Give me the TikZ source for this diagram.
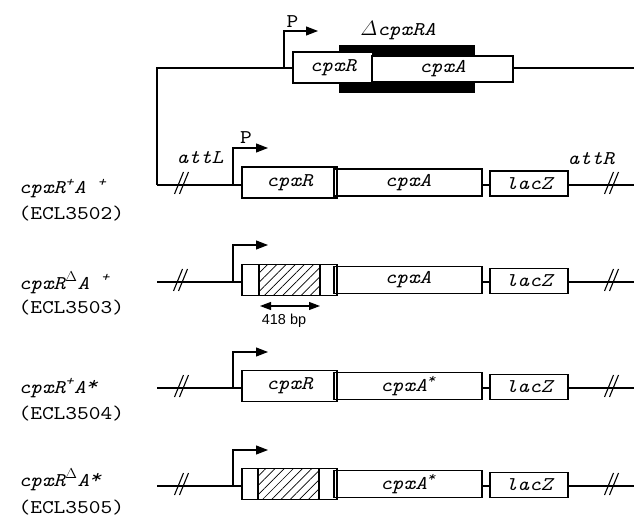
\documentclass[tikz,border=0pt]{standalone}
\usepackage{amsmath}
\usepackage{fontspec}
\setmonofont{lmmono10-regular.otf}[ItalicFont=lmmono10-italic.otf,FakeStretch=1.15]
\setsansfont{Liberation Sans}
\usetikzlibrary{arrows.meta,patterns.meta}
\newcommand\gfont{\fontsize{19.5}{21}\selectfont\ttfamily\itshape}
\newcommand\pfont{\fontsize{19.5}{21}\selectfont\ttfamily}
\newcommand\hiast{\raisebox{0.35ex}{*}}
\begin{document}
\begin{tikzpicture}[x=1bp,y=-1bp,line width=1.1bp,
  gene/.style={draw,line width=1.1bp,inner sep=0pt,font=\gfont},
  hatchbox/.style={draw,line width=1.1bp,inner sep=0pt,pattern={Lines[angle=45,distance=6.5bp,line width=0.7bp]}},
  prom/.style={-{Triangle[length=12bp,width=9bp]},line width=1.1bp},
  dna/.style={line width=1.1bp},
  lbl/.style={inner sep=0pt,font=\pfont},
  glbl/.style={inner sep=0pt,font=\gfont,anchor=base west},
  elbl/.style={inner sep=0pt,font=\pfont,anchor=base west},
  brk/.pic={\draw[line width=1.1bp] (-6.5,9)--(2.5,-13); \draw[line width=1.1bp] (-1.5,9)--(7.5,-13);}
]
\useasboundingbox (0,0) rectangle (634,523);

% ---------- top construct ----------
\node[fill=black,minimum width=136bp,minimum height=48bp,inner sep=0pt] (bar) at (407,69) {};
\node[gene,fill=white,minimum width=80bp,minimum height=31bp] (tR) at (333,67.5) {cpxR\hspace{10bp}};
\node[gene,fill=white,minimum width=141bp,minimum height=26bp] (tA) at (442.5,69) {cpxA\hspace{10bp}};
\node[inner sep=0pt,font=\gfont] (dl) at (398,31) {$\varDelta$cpxRA};
\coordinate (r1s) at (157,185);
\coordinate (tc) at (157,68);
\coordinate (te) at (634,68);
\draw[dna] (r1s) -- (tc) -- (tc -| tR.west);
\draw[dna] (tA.east |- te) -- (te);
\coordinate (tp) at (284,68);
\draw[prom] (tp) -- ++(0,-37) -- ++(34,0);
\node[lbl] (tP) at (292.5,22) {P};

% ---------- row 1 ----------
\node[gene,minimum width=95bp,minimum height=31bp] (r1R) at (289.5,182.5) {cpxR\hspace{16bp}};
\node[gene,minimum width=148bp,minimum height=27bp] (r1A) at (408,182.5) {cpxA\hspace{18bp}};
\node[gene,minimum width=78bp,minimum height=25bp] (r1Z) at (529,183.5) {lacZ\hspace{4bp}};
\coordinate (r1e) at (634,185);
\draw[dna] (r1s) -- (r1s -| r1R.west);
\draw[dna] (r1A.east |- r1s) -- (r1Z.west |- r1s);
\draw[dna] (r1Z.east |- r1s) -- (r1e);
\pic at (181,185) {brk};
\pic at (611,185) {brk};
\coordinate (r1p) at (233,185);
\draw[prom] (r1p) -- ++(0,-37) -- ++(35,0);
\node[lbl] (r1P) at (246,137.5) {P};
\node[inner sep=0pt,font=\gfont] (attL) at (200,158) {attL};
\node[inner sep=0pt,font=\gfont] (attR) at (591,159) {attR};
\node[glbl] (n1) at (18,194) {cpxR\textsuperscript{+}A \textsuperscript{+}};
\node[elbl] (e1) at (18,220) {(ECL3502)};

% ---------- row 2 ----------
\coordinate (r2s) at (157,282);
\coordinate (r2e) at (634,282);
\node[gene,minimum width=95bp,minimum height=31bp] (r2R) at (289.5,280) {};
\node[hatchbox,minimum width=61bp,minimum height=31bp] (r2H) at (289.5,280) {};
\node[gene,minimum width=148bp,minimum height=27bp] (r2A) at (408,280) {cpxA\hspace{18bp}};
\node[gene,minimum width=78bp,minimum height=25bp] (r2Z) at (529,281) {lacZ\hspace{4bp}};
\draw[dna] (r2s) -- (r2s -| r2R.west);
\draw[dna] (r2A.east |- r2s) -- (r2Z.west |- r2s);
\draw[dna] (r2Z.east |- r2s) -- (r2e);
\pic at (180,282) {brk};
\pic at (611,282) {brk};
\coordinate (r2p) at (233,282);
\draw[prom] (r2p) -- ++(0,-37) -- ++(35,0);
\coordinate (r2a) at (260,306);
\coordinate (r2b) at (320,306);
\draw[{Triangle[length=11bp,width=8bp]}-{Triangle[length=11bp,width=8bp]},line width=1.1bp] (r2a) -- (r2b);
\node[inner sep=0pt,font=\fontsize{14.5}{16}\selectfont\sffamily] (bp) at (284,321) {418 bp};
\node[glbl] (n2) at (18,289) {cpxR\textsuperscript{$\Delta$}A \textsuperscript{+}};
\node[elbl] (e2) at (18,313) {(ECL3503)};

% ---------- row 3 ----------
\coordinate (r3s) at (157,388);
\coordinate (r3e) at (634,388);
\node[gene,minimum width=95bp,minimum height=31bp] (r3R) at (289.5,386) {cpxR\hspace{4bp}};
\node[gene,minimum width=148bp,minimum height=27bp] (r3A) at (408,386) {cpxA\textsuperscript{*}\hspace{8bp}};
\node[gene,minimum width=78bp,minimum height=25bp] (r3Z) at (529,387) {lacZ\hspace{4bp}};
\draw[dna] (r3s) -- (r3s -| r3R.west);
\draw[dna] (r3A.east |- r3s) -- (r3Z.west |- r3s);
\draw[dna] (r3Z.east |- r3s) -- (r3e);
\pic at (181,388) {brk};
\pic at (611,388) {brk};
\coordinate (r3p) at (233,388);
\draw[prom] (r3p) -- ++(0,-36) -- ++(35,0);
\node[glbl] (n3) at (18,393) {cpxR\textsuperscript{+}A\hiast};
\node[elbl] (e3) at (18,419) {(ECL3504)};

% ---------- row 4 ----------
\coordinate (r4s) at (157,486);
\coordinate (r4e) at (634,486);
\node[gene,minimum width=95bp,minimum height=31bp] (r4R) at (289.5,484) {};
\node[hatchbox,minimum width=61bp,minimum height=31bp] (r4H) at (288.5,484) {};
\node[gene,minimum width=148bp,minimum height=27bp] (r4A) at (408,484) {cpxA\textsuperscript{*}\hspace{8bp}};
\node[gene,minimum width=78bp,minimum height=25bp] (r4Z) at (529,485) {lacZ\hspace{4bp}};
\draw[dna] (r4s) -- (r4s -| r4R.west);
\draw[dna] (r4A.east |- r4s) -- (r4Z.west |- r4s);
\draw[dna] (r4Z.east |- r4s) -- (r4e);
\pic at (181,486) {brk};
\pic at (611,486) {brk};
\coordinate (r4p) at (233,486);
\draw[prom] (r4p) -- ++(0,-36) -- ++(35,0);
\node[glbl] (n4) at (18,486) {cpxR\textsuperscript{$\Delta$}A\hiast};
\node[elbl] (e4) at (18,513) {(ECL3505)};
\end{tikzpicture}
\end{document}
